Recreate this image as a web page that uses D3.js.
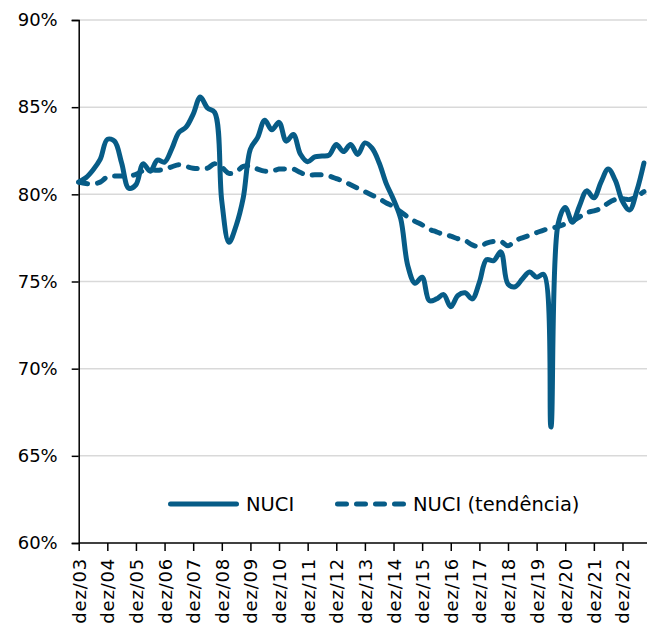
<!DOCTYPE html>
<html>
<head>
<meta charset="utf-8">
<script src="https://cdn.jsdelivr.net/npm/d3@7"></script>
<style>
  body { margin: 0; background: #fff; }
  svg text { font-family: "DejaVu Sans", sans-serif; fill: #000; }
</style>
</head>
<body>
<svg id="chart" width="647" height="627"></svg>
<script>
// quarterly data, 4T03 .. 3T23 (one tick per december)
var tickLabels = ['dez/03','dez/04','dez/05','dez/06','dez/07','dez/08','dez/09','dez/10','dez/11','dez/12',
  'dez/13','dez/14','dez/15','dez/16','dez/17','dez/18','dez/19','dez/20','dez/21','dez/22'];

var nuci = [80.7, 80.95, 81.4, 82.0, 83.15, 83.05, 81.8, 80.35, 80.55, 81.75,
  81.33, 81.96, 81.85, 82.6, 83.55, 83.85, 84.6, 85.58, 84.95, 84.7,
  79.6, 77.25, 78.2, 79.8, 82.6, 83.25, 84.25, 83.7, 84.13, 83.05,
  83.43, 82.3, 81.87, 82.15, 82.2, 82.25, 82.86, 82.45, 82.86, 82.29,
  82.95, 82.65, 81.8, 80.6, 79.7, 78.6, 75.9, 74.9, 75.25, 73.9,
  74.0, 74.25, 73.55, 74.2, 74.35, 74.0, 74.95, 76.25, 76.2, 76.7,
  74.85, 74.7, 75.14, 75.55, 75.25, 75.4, 66.65, 78.3, 79.25, 78.4,
  79.35, 80.2, 79.8, 80.7, 81.45, 80.8, 79.6, 79.1, 80.2, 81.8];

var tendencia = [80.7, 80.62, 80.6, 80.7, 81.0, 81.05, 81.05, 81.05, 81.15, 81.35,
  81.4, 81.38, 81.45, 81.58, 81.7, 81.6, 81.5, 81.47, 81.5, 81.75,
  81.55, 81.2, 81.3, 81.6, 81.62, 81.45, 81.33, 81.33, 81.45, 81.45,
  81.45, 81.25, 81.1, 81.12, 81.12, 81.05, 80.9, 80.75, 80.55, 80.35,
  80.15, 79.95, 79.75, 79.5, 79.3, 79.0, 78.7, 78.45, 78.25, 78.0,
  77.85, 77.7, 77.6, 77.45, 77.35, 77.1, 77.0, 77.2, 77.3, 77.3,
  77.05, 77.35, 77.5, 77.65, 77.8, 77.95, 78.05, 78.15, 78.3, 78.45,
  78.7, 78.95, 79.05, 79.2, 79.5, 79.7, 79.75, 79.7, 79.9, 80.15];

var yTicks = [60, 65, 70, 75, 80, 85, 90];
var legendNames = ['NUCI', 'NUCI (tendência)'];

var color = '#075c87';
var svg = d3.select('#chart');
var mLeft = 78.7, mRight = 647, mTop = 20, mBottom = 543;

var x = d3.scaleLinear().domain([0, 79]).range([mLeft, mLeft + 79 * 7.155]);
var y = d3.scaleLinear().domain([60, 90]).range([mBottom, mTop]);

// gridlines
svg.append('g')
  .selectAll('line')
  .data(yTicks.slice(1))
  .enter()
  .append('line')
  .attr('x1', mLeft).attr('x2', mRight)
  .attr('y1', function(d){ return y(d); })
  .attr('y2', function(d){ return y(d); })
  .attr('stroke', '#d9d9d9')
  .attr('stroke-width', 1.5);

// y axis
var yAxis = svg.append('g')
  .attr('transform', 'translate(' + mLeft + ',0)')
  .call(d3.axisLeft(y).tickValues(yTicks).tickSize(7).tickPadding(14)
    .tickFormat(function(d){ return d + '%'; }));
yAxis.select('.domain').attr('stroke', '#000').attr('stroke-width', 1.5);
yAxis.selectAll('.tick line').attr('stroke', '#000').attr('stroke-width', 1.5);
yAxis.selectAll('text').attr('font-size', '18px').attr('fill', '#000');

// x axis
var xAxis = svg.append('g')
  .attr('transform', 'translate(0,' + mBottom + ')')
  .call(d3.axisBottom(x).tickValues(d3.range(0, 80, 4)).tickSize(8)
    .tickFormat(function(d, i){ return tickLabels[i]; }));
xAxis.select('.domain').attr('d', 'M' + mLeft + ',0H' + mRight).attr('stroke', '#000').attr('stroke-width', 1.5);
xAxis.selectAll('.tick line').attr('stroke', '#000').attr('stroke-width', 1.5);
xAxis.selectAll('text')
  .attr('font-size', '18px')
  .attr('letter-spacing', '0.8px')
  .attr('fill', '#000')
  .attr('transform', 'rotate(-90)')
  .attr('text-anchor', 'end')
  .attr('x', -15)
  .attr('y', 0)
  .attr('dy', '0.36em');

// lines
var line = d3.line()
  .x(function(d, i){ return x(i); })
  .y(function(d){ return y(d); })
  .curve(d3.curveCatmullRom.alpha(0.5));

svg.append('path')
  .datum(tendencia)
  .attr('d', line)
  .attr('fill', 'none')
  .attr('stroke', color)
  .attr('stroke-width', 5)
  .attr('stroke-linecap', 'round')
  .attr('stroke-dasharray', '9 10');

svg.append('path')
  .datum(nuci)
  .attr('d', line)
  .attr('fill', 'none')
  .attr('stroke', color)
  .attr('stroke-width', 5)
  .attr('stroke-linejoin', 'round')
  .attr('stroke-linecap', 'round');

// legend
var legend = svg.append('g')
  .selectAll('g')
  .data(legendNames)
  .enter()
  .append('g')
  .attr('transform', function(d, i){ return 'translate(' + (i == 0 ? 168 : 335) + ',504)'; });

legend.append('line')
  .attr('x1', 2.5).attr('x2', 68.5)
  .attr('stroke', color)
  .attr('stroke-width', 5)
  .attr('stroke-linecap', 'round')
  .attr('stroke-dasharray', function(d, i){ return i == 0 ? null : '9 10'; });

legend.append('text')
  .attr('x', 78)
  .attr('dy', '0.36em')
  .attr('font-size', '19.5px')
  .text(function(d){ return d; });
</script>
</body>
</html>
